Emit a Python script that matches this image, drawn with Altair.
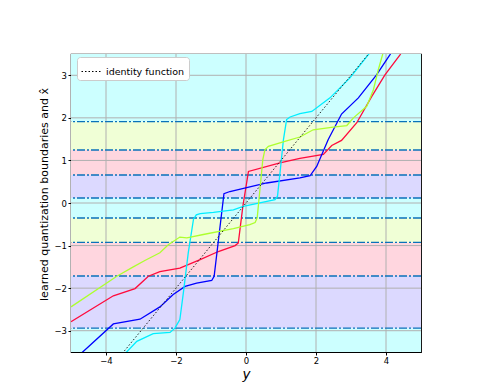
import altair as alt
import pandas as pd

# ---- data ----
x_ticks = [-4, -2, 0, 2, 4]
y_ticks = [-3, -2, -1, 0, 1, 2, 3]

boundaries = [-2.94, -1.715, -0.925, -0.352, 0.117, 0.658, 1.245, 1.91]
band_lo = [-4.0] + boundaries
band_hi = boundaries + [4.0]
band_kind = ["c", "b", "r", "l", "c", "b", "r", "l", "c"]

red_x = [-5.0, -3.79, -3.17, -2.79, -2.46, -1.89, -1.31, -0.79, -0.31, -0.22, -0.09, 0.07, 0.97, 1.54, 2.21, 2.45, 2.73, 3.16, 3.59, 3.97, 4.4, 4.5]
red_y = [-2.79, -2.18, -2.01, -1.72, -1.61, -1.53, -1.33, -1.14, -1.0, -0.94, -0.08, 0.74, 0.94, 1.05, 1.14, 1.35, 1.47, 1.88, 2.50, 3.01, 3.48, 3.62]

blue_x = [-4.8, -3.79, -3.03, -2.46, -2.08, -1.74, -1.41, -0.98, -0.91, -0.63, -0.46, 0.59, 1.54, 1.83, 2.02, 2.35, 2.73, 3.21, 3.73, 4.11, 4.2]
blue_y = [-3.6, -2.84, -2.73, -2.44, -2.15, -1.96, -1.88, -1.82, -1.72, 0.22, 0.27, 0.47, 0.59, 0.64, 0.86, 1.49, 2.09, 2.47, 3.01, 3.48, 3.6]

cyan_x = [-3.55, -3.12, -2.65, -2.17, -2.03, -1.89, -1.79, -1.65, -1.50, -1.42, -1.31, -0.93, -0.36, -0.08, 0.83, 0.90, 0.97, 1.07, 1.16, 1.26, 1.54, 1.88, 2.40, 2.97, 3.49, 3.6]
cyan_y = [-3.62, -3.25, -3.07, -3.04, -2.94, -2.74, -2.11, -1.17, -0.38, -0.28, -0.25, -0.22, -0.16, -0.08, 0.08, 0.16, 0.70, 1.49, 1.96, 2.02, 2.10, 2.15, 2.47, 2.94, 3.48, 3.6]

lime_x = [-5.0, -3.69, -3.22, -2.89, -2.46, -2.22, -1.89, -1.69, -1.22, -0.36, 0.11, 0.26, 0.32, 0.48, 0.54, 0.64, 1.11, 1.54, 1.92, 2.49, 2.88, 3.07, 3.45, 3.64, 3.78, 3.9, 3.95]
lime_y = [-2.44, -1.72, -1.50, -1.35, -1.17, -0.98, -0.80, -0.82, -0.74, -0.60, -0.51, -0.46, -0.35, 1.02, 1.25, 1.33, 1.45, 1.55, 1.72, 1.78, 1.82, 2.0, 2.27, 2.66, 3.13, 3.48, 3.62]

identity_x = [-5.0, 5.0]

series_names = ["red", "blue", "cyan", "lime"]
series_colors = ["#ff0a3c", "#0000ff", "#00eeff", "#adff2f"]
band_domain = ["c", "b", "r", "l"]
band_colors = ["#ccffff", "#dcd9ff", "#ffd6df", "#f0ffd6"]

# ---- tables ----
bands = pd.DataFrame({"lo": band_lo, "hi": band_hi, "kind": band_kind})
bounds = pd.DataFrame({"b": boundaries})
gx = pd.DataFrame({"gx": x_ticks})
gy = pd.DataFrame({"gy": y_ticks})
rows = []
for name, xs, ys in [("red", red_x, red_y), ("blue", blue_x, blue_y),
                     ("cyan", cyan_x, cyan_y), ("lime", lime_x, lime_y)]:
    for i, (a, b) in enumerate(zip(xs, ys)):
        rows.append({"series": name, "x": a, "y": b, "i": i})
curves = pd.DataFrame(rows)
ident = pd.DataFrame({"x": identity_x, "y": identity_x, "label": ["identity function"] * 2})

XS = alt.Scale(domain=[-5, 5], nice=False, zero=False)
YS = alt.Scale(domain=[-3.5, 3.5], nice=False, zero=False)
XT = "y"
YT = "learned quantization boundaries and x\u0302"
xaxis = alt.Axis(values=x_ticks, title=XT, grid=False, titleFontStyle="italic",
                 titleFontSize=13.5, titlePadding=2)
yaxis = alt.Axis(values=y_ticks, title=YT, grid=False, titleFontSize=11, titlePadding=4,
                 titleY=140)


def X(f):
    return alt.X(f, type="quantitative", scale=XS, axis=xaxis, title=XT)


def Y(f):
    return alt.Y(f, type="quantitative", scale=YS, axis=yaxis, title=YT)


band_layer = alt.Chart(bands).mark_rect(clip=True, strokeWidth=0).encode(
    x=alt.value(0), x2=alt.value("width"),
    y=Y("lo"), y2="hi",
    fill=alt.Fill("kind:N", scale=alt.Scale(domain=band_domain, range=band_colors), legend=None),
)

grid_x = alt.Chart(gx).mark_rule(color="#b0b0b0", strokeWidth=1).encode(x=X("gx"))
grid_y = alt.Chart(gy).mark_rule(color="#b0b0b0", strokeWidth=1).encode(y=Y("gy"))

bound_layer = alt.Chart(bounds).mark_rule(color="#0a72ba", strokeWidth=1.3,
                                          strokeDash=[8, 2, 2, 2]).encode(y=Y("b"))

curve_layer = alt.Chart(curves).mark_line(clip=True, strokeWidth=1.3).encode(
    x=X("x"), y=Y("y"),
    order="i:Q",
    stroke=alt.Stroke("series:N", scale=alt.Scale(domain=series_names, range=series_colors), legend=None),
)

ident_layer = alt.Chart(ident).mark_line(clip=True, color="#222222", strokeWidth=1).encode(
    x=X("x"), y=Y("y"),
    strokeDash=alt.StrokeDash("label:N", scale=alt.Scale(domain=["identity function"], range=[[1.5, 2]]),
                              legend=alt.Legend(title=None, orient="none", legendX=6, legendY=3,
                                                symbolType="stroke", symbolStrokeColor="black",
                                                symbolStrokeWidth=1, symbolSize=400,
                                                labelFontSize=9.5, labelColor="black",
                                                fillColor="white", strokeColor="#cccccc",
                                                cornerRadius=3, padding=4)),
)

chart = alt.layer(band_layer, grid_x, grid_y, bound_layer, curve_layer, ident_layer).resolve_scale(
    fill="independent", stroke="independent", strokeDash="independent"
).properties(
    width=350, height=298,
    autosize=alt.AutoSizeParams(type="none"),
    padding={"left": 63, "top": 46, "right": 65, "bottom": 32},
).configure(font="DejaVu Sans").configure_view(stroke="black", strokeWidth=1.2).configure_axis(
    domain=False, tickColor="black", tickSize=3, labelFontSize=8.5, labelColor="black",
    labelFont="DejaVu Sans", titleFont="DejaVu Sans", titleFontWeight="normal", titleColor="black",
    labelPadding=1.5,
).configure_legend(labelFont="DejaVu Sans")

chart.save("out.html", embed_options={"renderer": "svg", "actions": False})
